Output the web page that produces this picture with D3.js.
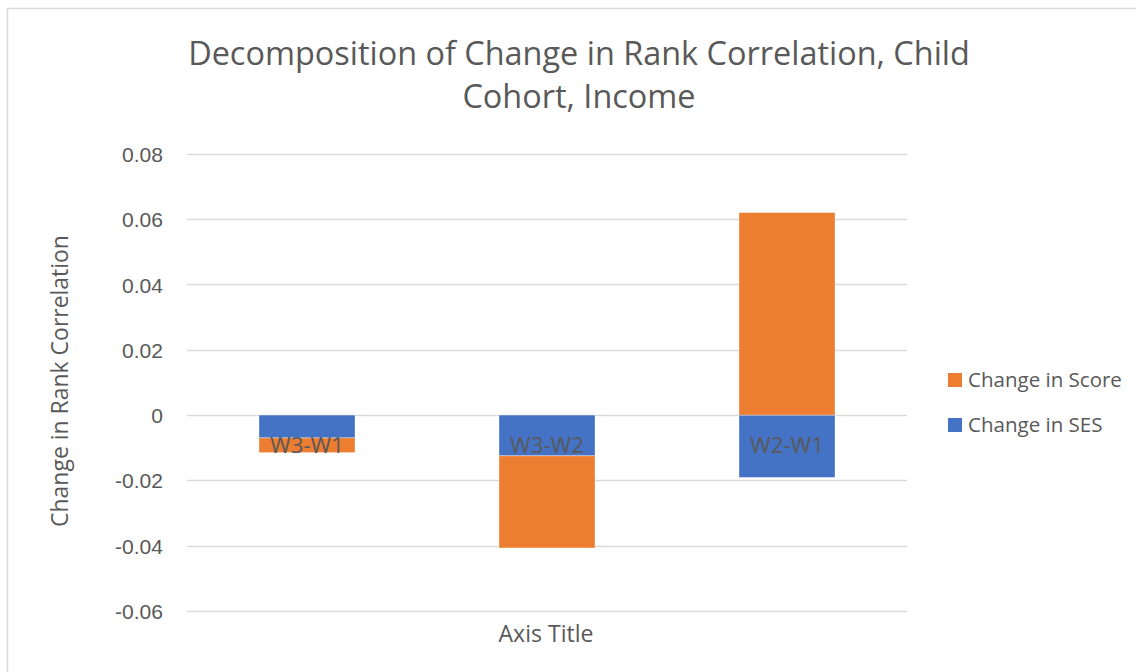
<!DOCTYPE html>
<html>
<head>
<meta charset="utf-8">
<script src="https://cdn.jsdelivr.net/npm/d3@7"></script>
<style>
  html, body { margin: 0; padding: 0; background: #fff; }
  svg { display: block; font-family: "Open Sans", "Noto Sans", sans-serif; }
</style>
</head>
<body>
<div id="chart"></div>
<script>
// values
var categories = ["W3-W1", "W3-W2", "W2-W1"];
var seriesNames = ["Change in SES", "Change in Score"];
var sesValues = [-0.0070, -0.0125, -0.0191];
var scoreValues = [-0.0045, -0.0282, 0.0620];
var yTicks = [-0.06, -0.04, -0.02, 0, 0.02, 0.04, 0.06, 0.08];
var colors = { "Change in SES": "#4472C4", "Change in Score": "#ED7D31" };

var W = 1136, H = 672;
var textColor = "#595959", gridColor = "#D9D9D9";

var svg = d3.select("#chart").append("svg").attr("width", W).attr("height", H);

// outer chart border (runs off right/bottom edge like the screenshot)
svg.append("rect")
	.attr("x", 7.5).attr("y", 8.5)
	.attr("width", W + 20).attr("height", H + 20)
	.attr("fill", "#fff").attr("stroke", gridColor).attr("stroke-width", 1.5);

// scale a text node's font-size so its rendered width matches w
function fitWidth(sel, w){
	var base = parseFloat(sel.attr("font-size"));
	var len = sel.node().getComputedTextLength();
	var size = base * w / len;
	sel.attr("font-size", size);
	return size;
}

var rows = categories.map(function(c, i){
	return { cat: c, "Change in SES": sesValues[i], "Change in Score": scoreValues[i] };
});

var stack = d3.stack().keys(seriesNames).offset(d3.stackOffsetDiverging);
var layers = stack(rows);

var x = d3.scaleBand().domain(categories).range([187, 907]).paddingInner(0.6).paddingOuter(0.3);
var y = d3.scaleLinear().domain([-0.06, 0.08]).range([611, 153.8]);

// gridlines
svg.append("g").selectAll("line").data(yTicks).join("line")
	.attr("x1", 187).attr("x2", 907)
	.attr("y1", function(d){ return Math.round(y(d)) + 0.5; })
	.attr("y2", function(d){ return Math.round(y(d)) + 0.5; })
	.attr("stroke", gridColor).attr("stroke-width", 1.5);

// y axis labels via d3 axis, domain and ticks hidden; Excel prints a plain hyphen
var fmt = d3.format(".2f");
var yAxis = svg.append("g")
	.attr("transform", "translate(181,0)")
	.call(d3.axisLeft(y).tickValues(yTicks).tickSize(0).tickPadding(18)
		.tickFormat(function(d){ return d === 0 ? "0" : fmt(d).replace("\u2212", "-"); }));
yAxis.select(".domain").remove();
yAxis.selectAll("text").attr("fill", textColor).attr("font-family", null).attr("font-size", 20);
var tickSize = fitWidth(yAxis.selectAll("text").filter(function(d){ return d === 0.04; }), 41);
yAxis.selectAll("text").attr("font-size", tickSize).attr("dy", "0.36em");

// bars
svg.append("g").selectAll("g").data(layers).join("g")
	.attr("fill", function(d){ return colors[d.key]; })
	.selectAll("rect").data(function(d){ return d; }).join("rect")
	.attr("x", function(d){ return x(d.data.cat); })
	.attr("width", x.bandwidth())
	.attr("y", function(d){ return y(Math.max(d[0], d[1])); })
	.attr("height", function(d){ return Math.abs(y(d[0]) - y(d[1])); })
	.attr("stroke", "#fff").attr("stroke-width", 0.6).attr("stroke-opacity", 0.6);

// category labels sit next to the zero line
var catLabels = svg.append("g").selectAll("text").data(categories).join("text")
	.attr("x", function(d){ return x(d) + x.bandwidth() / 2; })
	.attr("y", 453)
	.attr("text-anchor", "middle")
	.attr("fill", textColor)
	.attr("font-size", 20)
	.text(function(d){ return d; });
var catSize = fitWidth(d3.select(catLabels.nodes()[0]), 74);
catLabels.attr("font-size", catSize);

// title
var t1 = svg.append("text")
	.attr("x", 579).attr("y", 65)
	.attr("text-anchor", "middle").attr("fill", textColor)
	.attr("font-size", 28)
	.text("Decomposition of Change in Rank Correlation, Child");
var titleSize = fitWidth(t1, 782);
svg.append("text")
	.attr("x", 579).attr("y", 108)
	.attr("text-anchor", "middle").attr("fill", textColor)
	.attr("font-size", titleSize)
	.text("Cohort, Income");

// axis titles
var yt = svg.append("text")
	.attr("transform", "translate(68,381) rotate(-90)")
	.attr("text-anchor", "middle").attr("fill", textColor)
	.attr("font-size", 20)
	.text("Change in Rank Correlation");
fitWidth(yt, 292);

var xt = svg.append("text")
	.attr("x", 546).attr("y", 642)
	.attr("text-anchor", "middle").attr("fill", textColor)
	.attr("font-size", 20)
	.text("Axis Title");
fitWidth(xt, 95);

// legend, reversed like Excel's stacked column legend
var legendItems = seriesNames.slice().reverse();
var legend = svg.append("g").selectAll("g").data(legendItems).join("g")
	.attr("transform", function(d, i){ return "translate(948," + (373 + i * 45) + ")"; });
legend.append("rect")
	.attr("width", 14).attr("height", 14)
	.attr("fill", function(d){ return colors[d]; });
var legendText = legend.append("text")
	.attr("x", 20).attr("y", 13.7)
	.attr("fill", textColor).attr("font-size", 18)
	.text(function(d){ return d; });
var legendSize = fitWidth(d3.select(legendText.nodes()[0]), 154);
legendText.attr("font-size", legendSize);
</script>
</body>
</html>
